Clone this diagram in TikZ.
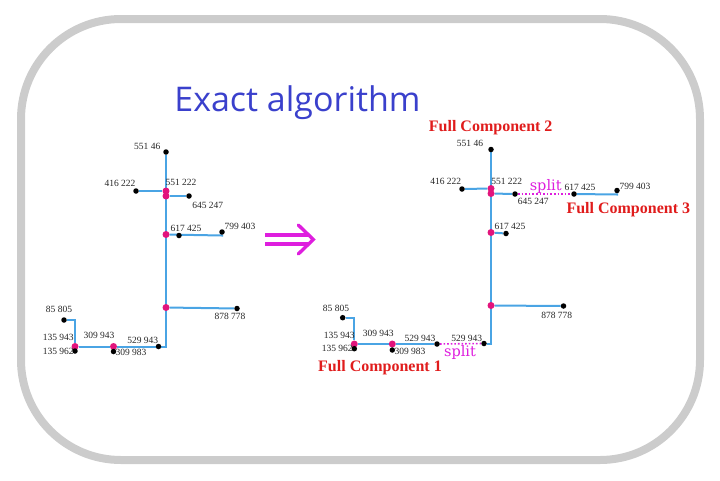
\documentclass[tikz,border=0pt]{standalone}
\usepackage{fontspec}
\setmainfont{Liberation Serif}
\newfontfamily\titlefont{Open Sans}
\newfontfamily\splitfont{DejaVu Serif}
\usepackage{tikz}
\usetikzlibrary{backgrounds}
\definecolor{figB}{RGB}{74,164,228}
\definecolor{figP}{RGB}{226,20,124}
\definecolor{figM}{RGB}{222,30,222}
\definecolor{figR}{RGB}{224,28,28}
\definecolor{figT}{RGB}{58,64,204}
\definecolor{figF}{RGB}{204,204,204}
\begin{document}
\begin{tikzpicture}[x=1pt, y=-1pt,
  dot/.style={circle, fill=black, inner sep=0pt, minimum size=5.5pt},
  pdot/.style={circle, fill=figP, inner sep=0pt, minimum size=7pt},
  edge/.style={figB, line width=2pt},
  cut/.style={figM, line width=1.6pt, dotted},
  lbl/.style={font=\fontsize{9.5}{10}\selectfont, text=black!85, inner sep=0pt},
  fcomp/.style={font=\fontsize{16}{18}\selectfont\bfseries, text=figR, inner sep=0pt},
  splitlbl/.style={font=\splitfont\fontsize{14.5}{16}\selectfont, text=figM, inner sep=0pt}]
\useasboundingbox (0,0) rectangle (720,480);
% frame and title
\draw[figF, line width=8pt, rounded corners=100pt] (21,19) rectangle (700,460);
\node[font=\titlefont\fontsize{34}{40}\selectfont, text=figT, anchor=base] (title) at (297.5,111) {Exact algorithm};
% ---------------- left tree
\node[dot] (a55146) at (166,152) {};
\node[pdot] (ap1) at (166,191) {};
\node[pdot] (ap2) at (166,196) {};
\node[dot] (a416) at (136,191) {};
\node[dot] (a645) at (189,196) {};
\node[pdot] (ap3) at (166,234.5) {};
\node[dot] (a617) at (179,235.5) {};
\coordinate (ac1) at (222,235.5);
\node[dot] (a799) at (222,232) {};
\node[pdot] (ap4) at (166,307.5) {};
\node[dot] (a878) at (237,308.5) {};
\coordinate (acorner) at (166,346.5);
\node[dot] (a529) at (158.5,346.5) {};
\node[pdot] (ap6) at (113.5,346.5) {};
\node[dot] (a309) at (113.5,351.5) {};
\node[pdot] (ap5) at (75,346.5) {};
\node[dot] (a135) at (75,351) {};
\coordinate (ac2) at (75,320);
\node[dot] (a85) at (64,320) {};
\begin{pgfonlayer}{background}
\draw[edge] (a55146) -- (acorner) -- (a529);
\draw[edge] (a416) -- (ap1);
\draw[edge] (ap2) -- (a645);
\draw[edge] (ap3) -- (ac1) -- (a799);
\draw[edge] (ap4) -- (a878);
\draw[edge] (a85) -- (ac2) -- (ap5) -- (ap6) -- (a529);
\end{pgfonlayer}
\node[lbl] (ta55146) at (147.3,146.7) {551 46};
\node[lbl] (ta551222) at (181,182.5) {551 222};
\node[lbl] (ta416) at (120,183.3) {416 222};
\node[lbl] (ta645) at (207.7,205) {645 247};
\node[lbl] (ta617) at (186,228.7) {617 425};
\node[lbl] (ta799) at (240,226.7) {799 403};
\node[lbl] (ta878) at (230,316) {878 778};
\node[lbl] (ta85) at (59,309) {85 805};
\node[lbl] (ta135a) at (58.3,337.3) {135 943};
\node[lbl] (ta135b) at (58.3,351) {135 962};
\node[lbl] (ta309a) at (99,335) {309 943};
\node[lbl] (ta309b) at (131,352.7) {309 983};
\node[lbl] (ta529) at (142.7,340) {529 943};
% arrow
\draw[figM, line width=3.4pt] (265,235) -- (309,235) (265,244) -- (309,244);
\draw[figM, line width=3.4pt, line cap=round] (298.3,225) -- (313.3,239.5) -- (298.3,254);
% ---------------- right tree
\node[dot] (b55146) at (491,149.5) {};
\node[pdot] (bp1) at (491,188.5) {};
\node[pdot] (bp2) at (491,193.5) {};
\node[dot] (b416) at (462,189) {};
\node[dot] (b645) at (515,194) {};
\node[dot] (b617a) at (574,194) {};
\coordinate (bc1) at (617,194.5);
\node[dot] (b799) at (617,190.5) {};
\node[pdot] (bp3) at (491,232.5) {};
\node[dot] (b617b) at (506,233.5) {};
\node[pdot] (bp4) at (491,305.5) {};
\node[dot] (b878) at (563.5,306) {};
\coordinate (bcorner) at (491,343.5);
\node[dot] (b529b) at (484,343.5) {};
\node[dot] (b529a) at (437,344) {};
\node[pdot] (bp6) at (392.3,344) {};
\node[dot] (b309) at (392.3,350) {};
\node[pdot] (bp5) at (354.3,344) {};
\node[dot] (b135) at (354.3,348.7) {};
\coordinate (bc2) at (354.3,317.7);
\node[dot] (b85) at (342.7,317.7) {};
\begin{pgfonlayer}{background}
\draw[edge] (b55146) -- (bcorner) -- (b529b);
\draw[edge] (b416) -- (bp1);
\draw[edge] (bp2) -- (b645);
\draw[cut] (b645) -- (b617a);
\draw[edge] (b617a) -- (bc1) -- (b799);
\draw[edge] (bp3) -- (b617b);
\draw[edge] (bp4) -- (b878);
\draw[cut] (b529a) -- (b529b);
\draw[edge] (b85) -- (bc2) -- (bp5) -- (bp6) -- (b529a);
\end{pgfonlayer}
\node[lbl] (tb55146) at (470,143.3) {551 46};
\node[lbl] (tb416) at (445.7,181) {416 222};
\node[lbl] (tb551222) at (506.7,181) {551 222};
\node[lbl] (tb617a) at (580,187.3) {617 425};
\node[lbl] (tb799) at (635,186) {799 403};
\node[lbl] (tb645) at (533.3,201.7) {645 247};
\node[lbl] (tb617b) at (510,226.7) {617 425};
\node[lbl] (tb85) at (336,308.3) {85 805};
\node[lbl] (tb878) at (556.7,315) {878 778};
\node[lbl] (tb135a) at (339.3,335) {135 943};
\node[lbl] (tb135b) at (337.3,348.7) {135 962};
\node[lbl] (tb309a) at (378.3,333.3) {309 943};
\node[lbl] (tb309b) at (410,351) {309 983};
\node[lbl] (tb529a) at (420,338.3) {529 943};
\node[lbl] (tb529b) at (466.7,338.3) {529 943};
\node[splitlbl] (split1) at (545.7,186.5) {split};
\node[splitlbl] (split2) at (460,352.5) {split};
\node[fcomp] (fc2) at (490.7,127.3) {Full Component 2};
\node[fcomp] (fc3) at (628.3,210) {Full Component 3};
\node[fcomp] (fc1) at (380,367.3) {Full Component 1};
\end{tikzpicture}
\end{document}
